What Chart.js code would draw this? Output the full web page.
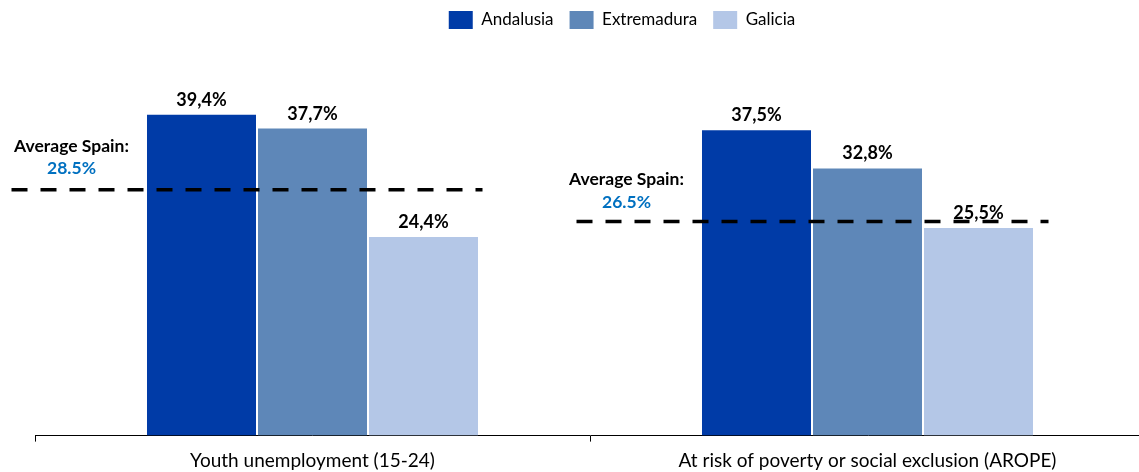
<!DOCTYPE html>
<html>
<head>
<meta charset="utf-8">
<script src="https://cdn.jsdelivr.net/npm/chart.js@4/dist/chart.umd.min.js"></script>
<style>
  html, body { margin: 0; padding: 0; background: #fff; overflow: hidden; }
</style>
</head>
<body>
<canvas id="myChart" width="1244" height="472"></canvas>
<script>
// data
var categories = ['Youth unemployment (15-24)', 'At risk of poverty or social exclusion (AROPE)']
var regions = ['Andalusia', 'Extremadura', 'Galicia']
var andalusia = [39.4, 37.5]
var extremadura = [37.7, 32.8]
var galicia = [24.4, 25.5]
var avgSpain = [28.5, 26.5]        // figure printed next to each dashed line
var avgLineLevel = [30.2, 26.3]    // where the dashed line sits on the value scale

var colors = ['#003BA7', '#5E87B8', '#B4C7E7']
var fontName = 'Lato'

// dashed line extent around each category centre (px) and label placement
var dashFrom = [-301, -291]
var dashTo = [170, 181]
var labelDx = -241
var labelLift = [[38, 16], [36, 13]]

function pct(v) {
  return v.toFixed(1).replace('.', ',') + '%'
}

var overlay = {
  id: 'overlay',
  afterDatasetsDraw: function(chart) {
    var ctx = chart.ctx
    var xs = chart.scales.x
    var ys = chart.scales.y
    ctx.save()

    // value labels on top of the bars
    ctx.fillStyle = '#000'
    ctx.font = 'bold 18px ' + fontName
    ctx.textAlign = 'center'
    ctx.textBaseline = 'alphabetic'
    chart.data.datasets.forEach(function(ds, di) {
      chart.getDatasetMeta(di).data.forEach(function(bar, i) {
        ctx.fillText(pct(ds.data[i]), bar.x, bar.y - 9)
      })
    })

    // average Spain lines
    for (var i = 0; i < categories.length; i++) {
      var xc = xs.getPixelForValue(i)
      var y = ys.getPixelForValue(avgLineLevel[i])
      ctx.beginPath()
      ctx.setLineDash([16, 13])
      ctx.lineWidth = 3.5
      ctx.strokeStyle = '#000'
      ctx.moveTo(xc + dashFrom[i], y)
      ctx.lineTo(xc + dashTo[i], y)
      ctx.stroke()
      ctx.setLineDash([])

      ctx.font = 'bold 17.5px ' + fontName
      ctx.fillStyle = '#000'
      ctx.fillText('Average Spain:', xc + labelDx, y - labelLift[i][0])
      ctx.fillStyle = '#0070C0'
      ctx.fillText(avgSpain[i].toFixed(1) + '%', xc + labelDx, y - labelLift[i][1])
    }
    ctx.restore()
  }
}

var ctx = document.getElementById('myChart').getContext('2d')
var chart = new Chart(ctx, {
  type: 'bar',
  data: {
    labels: categories,
    datasets: [
      { label: regions[0], data: andalusia, backgroundColor: colors[0] },
      { label: regions[1], data: extremadura, backgroundColor: colors[1] },
      { label: regions[2], data: galicia, backgroundColor: colors[2] }
    ]
  },
  options: {
    responsive: false,
    animation: false,
    devicePixelRatio: 1,
    categoryPercentage: 0.6,
    barPercentage: 0.982,
    layout: { padding: { top: -5, bottom: -8.4, left: 0, right: 0 } },
    plugins: {
      legend: {
        position: 'top',
        labels: {
          boxWidth: 24,
          boxHeight: 18,
          padding: 16,
          color: '#000',
          font: { family: fontName, size: 17 }
        }
      },
      tooltip: { enabled: false }
    },
    scales: {
      x: {
        offset: true,
        grid: { display: true, offset: true, drawOnChartArea: false, drawTicks: true, tickLength: 6, color: '#000' },
        border: { display: true, color: '#000', width: 1 },
        ticks: { color: '#000', padding: 8, maxRotation: 0, autoSkip: false, font: { family: fontName, size: 19 } }
      },
      y: {
        min: 0,
        max: 48.7,
        afterFit: function(s) { s.width = 35 },
        ticks: { display: false },
        grid: { display: false },
        border: { display: false }
      },
      y2: {
        position: 'right',
        min: 0,
        max: 1,
        afterFit: function(s) { s.width = 99 },
        ticks: { display: false },
        grid: { display: false },
        border: { display: false }
      }
    }
  },
  plugins: [overlay]
})
</script>
</body>
</html>
